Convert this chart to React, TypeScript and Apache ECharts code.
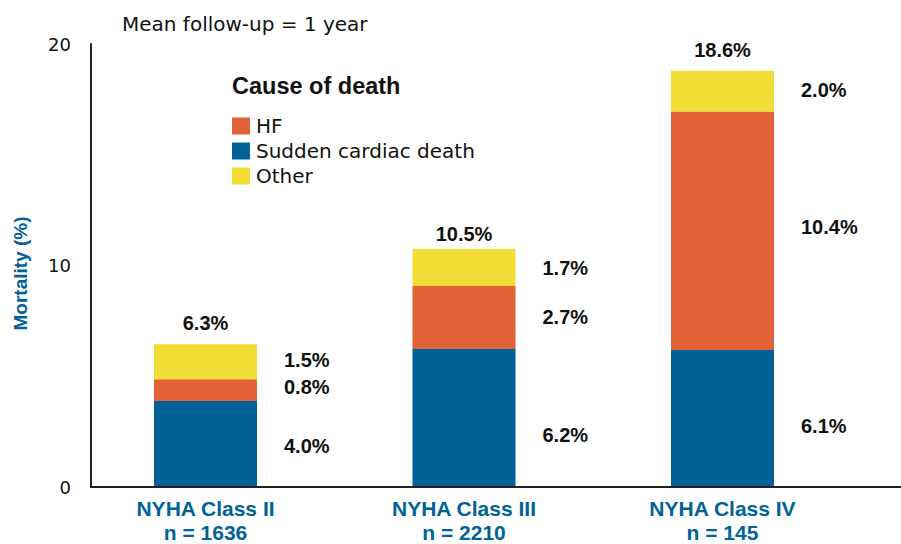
import React, { useEffect, useRef } from "react";
import * as echarts from "echarts";

const categories = ["NYHA Class II\nn = 1636", "NYHA Class III\nn = 2210", "NYHA Class IV\nn = 145"];
const suddenValues = [3.85, 6.2, 6.15];
const hfValues = [0.98, 2.85, 10.8];
const otherValues = [1.58, 1.67, 1.84];
const suddenLabels = ["4.0%", "6.2%", "6.1%"];
const hfLabels = ["0.8%", "2.7%", "10.4%"];
const otherLabels = ["1.5%", "1.7%", "2.0%"];
const totalLabels = ["6.3%", "10.5%", "18.6%"];
const legendOrder = ["HF", "Sudden cardiac death", "Other"];
const yMin = 0;
const yMax = 20;
const yInterval = 10;

const BLUE = "#006296";
const ORANGE = "#e36137";
const YELLOW = "#f2dc36";
const TEXT = "#111111";
const BOLD = "Liberation Sans, Arial, sans-serif";
const REG = "DejaVu Sans, sans-serif";

export default function App() {
  const ref = useRef<HTMLDivElement>(null);
  useEffect(() => {
    if (!ref.current) return;
    const chart = echarts.init(ref.current, null, { renderer: "svg" });
    const segLabel = (labels: string[]) => ({
      show: true,
      position: "right",
      distance: 27,
      fontFamily: BOLD,
      fontWeight: "bold",
      fontSize: 20,
      color: TEXT,
      formatter: (p: any) => labels[p.dataIndex],
    });
    const mkData = (vals: number[], offsets: number[]) =>
      vals.map((v, i) => ({ value: v, label: { offset: [0, offsets[i]] } }));
    chart.setOption({
      animation: false,
      backgroundColor: "#ffffff",
      grid: [
        { left: 76.25, right: 49.25, top: 44, bottom: 57 },
        { left: 91, right: -10, top: 44, bottom: 57 },
      ],
      legend: {
        data: legendOrder,
        orient: "vertical",
        left: 227,
        top: 111,
        itemWidth: 18,
        itemHeight: 17,
        itemGap: 5,
        icon: "rect",
        selectedMode: false,
        textStyle: {
          fontFamily: REG,
          fontSize: 20,
          color: TEXT,
          padding: [0, 0, 0, 1],
        },
      },
      xAxis: [
        {
          type: "category",
          gridIndex: 0,
          data: categories,
          axisLine: { show: false },
          axisTick: { show: false },
          axisLabel: {
            margin: 10,
            fontFamily: BOLD,
            fontWeight: "bold",
            fontSize: 21,
            lineHeight: 24,
            color: BLUE,
          },
        },
        {
          type: "value",
          gridIndex: 1,
          min: 0,
          max: 1,
          axisLine: { show: true, lineStyle: { color: "#222", width: 2 } },
          axisTick: { show: false },
          axisLabel: { show: false },
          splitLine: { show: false },
        },
      ],
      yAxis: [
        {
          type: "value",
          gridIndex: 0,
          min: yMin,
          max: yMax,
          interval: yInterval,
          show: false,
        },
        {
          type: "value",
          gridIndex: 1,
          min: yMin,
          max: yMax,
          interval: yInterval,
          axisLine: { show: true, lineStyle: { color: "#222", width: 2 } },
          axisTick: { show: false },
          splitLine: { show: false },
          axisLabel: { margin: 20, fontFamily: REG, fontSize: 18, color: TEXT },
          name: "Mortality (%)",
          nameLocation: "middle",
          nameGap: 61,
          nameTextStyle: {
            fontFamily: BOLD,
            fontWeight: "bold",
            fontSize: 19,
            color: BLUE,
            padding: [0, 16, 0, 0],
          },
        },
      ],
      graphic: [
        {
          type: "text",
          x: 122,
          y: 23.5,
          style: {
            text: "Mean follow-up = 1 year",
            fontFamily: REG,
            fontSize: 20,
            fill: TEXT,
            align: "left",
            verticalAlign: "middle",
          },
        },
        {
          type: "text",
          x: 232,
          y: 86,
          style: {
            text: "Cause of death",
            fontFamily: BOLD,
            fontWeight: "bold",
            fontSize: 23.5,
            fill: TEXT,
            align: "left",
            verticalAlign: "middle",
          },
        },
      ],
      series: [
        {
          name: "Sudden cardiac death",
          type: "bar",
          stack: "total",
          barWidth: 103,
          itemStyle: { color: BLUE },
          label: segLabel(suddenLabels),
          data: mkData(suddenValues, [3, 18, 8]),
        },
        {
          name: "HF",
          type: "bar",
          stack: "total",
          barWidth: 103,
          itemStyle: { color: ORANGE },
          label: segLabel(hfLabels),
          data: mkData(hfValues, [-3, 0, -4]),
        },
        {
          name: "Other",
          type: "bar",
          stack: "total",
          barWidth: 103,
          itemStyle: { color: YELLOW },
          label: segLabel(otherLabels),
          data: mkData(otherValues, [-2, 0, -1]),
        },
        {
          name: "Total",
          type: "bar",
          stack: "total",
          barWidth: 103,
          silent: true,
          itemStyle: { color: "rgba(0,0,0,0)" },
          data: totalLabels.map((_, i) => ({
            value: 0,
            label: { distance: i === 1 ? 5 : 11 },
          })),
          label: {
            show: true,
            position: "top",
            fontFamily: BOLD,
            fontWeight: "bold",
            fontSize: 20,
            color: TEXT,
            formatter: (p: any) => totalLabels[p.dataIndex],
          },
        },
      ],
    });
    return () => chart.dispose();
  }, []);
  return <div ref={ref} style={{ position: "fixed", left: 0, top: 0, width: 901, height: 544 }} />;
}
